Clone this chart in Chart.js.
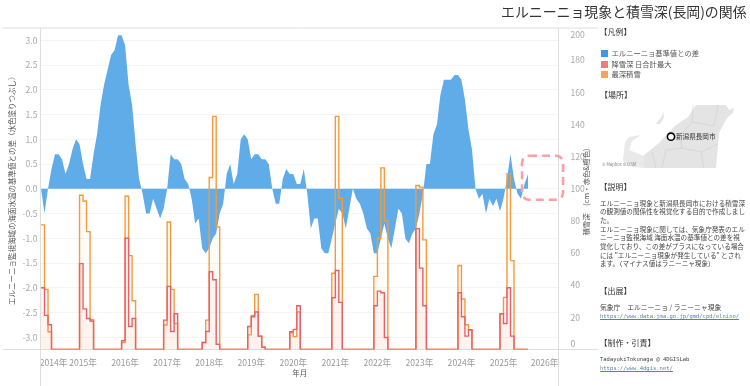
<!DOCTYPE html>
<html lang="ja"><head><meta charset="utf-8">
<script src="https://cdn.jsdelivr.net/npm/chart.js@4"></script>
<style>
html,body{margin:0;padding:0;background:#fff;width:750px;height:386px;overflow:hidden;font-family:"Noto Sans CJK JP","Noto Sans",sans-serif;color:#444}
#wrap{position:absolute;left:0;top:0;width:600px;height:386px}
.t{position:absolute;white-space:nowrap}
.h{font-size:8px;color:#333}
.p{font-size:6.6px;color:#444;line-height:8.67px}
.m{font-family:"DejaVu Sans Mono","Liberation Mono",monospace;font-size:5.5px}
a{color:#5a7fb5;text-decoration:underline}
.sw{position:absolute;width:7px;height:7px}
</style></head><body>
<div id="wrap"><canvas id="c" width="600" height="386"></canvas></div>
<div class="t" style="left:501px;top:1px;font-size:13.9px;color:#333;line-height:20px">エルニーニョ現象と積雪深(長岡)の関係</div>
<div class="t" id="rtitle" style="left:585px;top:191.5px;font-size:7.4px;color:#555;transform:translate(-50%,-50%) rotate(-90deg)">積雪深　(cm・赤色&amp;橙色)</div>
<div class="t h" style="left:599.5px;top:26px">【凡例】</div>
<div class="sw" style="left:601px;top:50px;background:#3b9ae8"></div>
<div class="sw" style="left:601px;top:60.5px;background:#e87d85"></div>
<div class="sw" style="left:601px;top:71px;background:#f5a55a"></div>
<div class="t" style="left:611.5px;top:48px;font-size:7.3px;color:#555">エルニーニョ基準値との差</div>
<div class="t" style="left:611.5px;top:58.5px;font-size:7.3px;color:#555">降雪深 日合計最大</div>
<div class="t" style="left:611.5px;top:69px;font-size:7.3px;color:#555">最深積雪</div>
<div class="t h" style="left:600px;top:89px">【場所】</div>
<svg style="position:absolute;left:596px;top:100px" width="150" height="75" viewBox="0 0 150 75">
<path d="M48 68L47 56L63 43L72 33L80 25L92 17L100 5L130 5L133 10L138 8L137 13L132 17L128 23L123 33L120 68Z" fill="#e4e4e4"/>
<path d="M60 24L66 16L67 11L68 17L64 24Z" fill="#e4e4e4"/>
<path d="M27 60L29 42L33 37L45 35L36 41L33 50L48 56L48 68L30 66Z" fill="#e9e9e9"/>
<path d="M97 5L96 22L84 36L86 48L70 50L66 68M96 22L118 26L122 5M86 48L105 52L122 44M105 52L108 68M56 52L60 68" fill="none" stroke="#c9c9c9" stroke-width=".5"/>
<circle cx="75" cy="36.7" r="3.6" fill="#fff" stroke="#000" stroke-width="1.6"/>
</svg>
<div class="t" style="left:676px;top:131px;font-size:6.6px;color:#333">新潟県長岡市</div>
<div class="t" style="left:602px;top:161px;font-size:4.2px;color:#888">© Mapbox  © OSM</div>
<div class="t h" style="left:599.5px;top:181px">【説明】</div>
<div class="t p" style="left:600px;top:198.5px">エルニーニョ現象と新潟県長岡市における積雪深<br>の観測値の関係性を視覚化する目的で作成しまし<br>た。<br>エルニーニョ現象に関しては、気象庁発表のエル<br>ニーニョ監視海域 海面水温の基準値との差を視<br>覚化しており、この差がプラスになっている場合<br>には "エルニーニョ現象が発生している" とされ<br>ます。（マイナス値はラニーニャ現象）</div>
<div class="t h" style="left:599.5px;top:284.5px">【出展】</div>
<div class="t" style="left:600px;top:302px;font-size:6.8px;color:#444">気象庁　エルニーニョ / ラニーニャ現象</div>
<div class="t m" style="left:600px;top:313px"><a>https://www.data.jma.go.jp/gmd/cpd/elnino/</a></div>
<div class="t h" style="left:599.5px;top:336.5px">【制作・引責】</div>
<div class="t m" style="left:600px;top:355.7px;color:#444">TadayukiTokunaga @ 4DGISLab</div>
<div class="t m" style="left:600px;top:364.7px"><a>https://www.4dgis.net/</a></div>
<script>
const startYear = 2014;
const yearTicks = [2014,2015,2016,2017,2018,2019,2020,2021,2022,2023,2024,2025,2026];
const elNino = [0,-0.5,0,0.4,0.7,0.7,0.6,0.3,0.5,0.8,1.0,0.9,0.5,0.2,0.2,0.7,1.1,1.7,2.1,2.4,2.7,2.8,3.1,3.1,2.9,2.1,1.7,0.9,0.2,-0.1,-0.5,-0.5,-0.2,-0.4,-0.6,-0.4,0.0,0.7,0.6,0.6,0.5,0.2,0.1,-0.2,-0.7,-0.6,-1.2,-1.3,-1.2,-1.0,-0.9,-0.5,-0.3,0.3,0.5,0.1,0.3,1.0,1.1,1.0,0.6,0.7,0.7,0.6,0.6,0.5,0.0,-0.3,-0.3,0.2,0.4,0.3,0.3,0.1,0.1,0.4,-0.1,-0.8,-0.6,-0.6,-1.2,-1.3,-1.3,-1.0,-0.7,-0.4,-0.5,-0.8,-0.4,0.0,-0.2,-0.3,-0.5,-0.8,-0.9,-1.3,-1.3,-1.0,-0.7,-1.0,-1.2,-0.8,-0.4,-0.5,-1.0,-1.1,-0.9,-0.8,-0.5,-0.1,0.5,0.5,1.1,1.3,1.9,2.2,2.2,2.2,2.3,2.3,2.2,1.8,1.2,0.8,0.0,-0.2,-0.1,-0.5,-0.2,-0.35,-0.2,-0.45,-0.2,0.2,0.7,0.2,-0.1,-0.2,0.1,0.3];
const deepestSnow = [77.5,37.4,11,0,0,0,0,0,0,0,0,96,92.4,73.3,18.7,0,0,0,0,0,0,0,0,4.4,95.3,58.4,30.3,0,0,0,0,0,0,0,0,15.2,79.3,37.4,16.2,0,0,0,0,0,0,0,4.4,18.3,107,145,76.2,0,0,0,0,0,0,0,0,9.1,21.2,34.3,8.3,1.5,0,0,0,0,0,0,0,10.4,8,23.3,0,0,0,0,0,0,0,0,0,47.4,145,94,0,0,0,0,0,0,0,0,0,45.5,69.2,113,80,0,0,0,0,0,0,0,0,102,101,68.2,0,0,0,0,0,0,0,0,0,52.3,31.4,15.4,12.3,0,0,0,0,0,0,0,0,22.2,32.4,109.4,55.3,0,0,0,0,0];
const dailySnow = [38.4,21.2,15.4,0,0,0,0,0,0,0,0,53.4,25.3,19.3,17.7,0,0,0,0,0,0,0,0,5.4,69.2,14.3,19.3,0,0,0,0,0,0,0,0,18.3,39.3,11.2,22.2,0,0,0,0,0,0,0,4.4,11.2,48.4,43.4,3.3,0,0,0,0,0,0,0,0,14.3,20.4,23.3,8.3,1.5,0,0,0,0,0,0,0,11,12.5,27.2,0,0,0,0,0,0,0,0,0,32.2,49.1,29.3,0,0,0,0,0,0,0,0,0,27.2,36.3,35.3,7.5,0,0,0,0,0,0,0,0,75.2,50.6,27.2,0,0,0,0,0,0,0,0,0,35.3,20.4,8.3,12.3,0,0,0,0,0,0,0,0,22.2,16.2,38.4,8.3,0,0,0,0,0];
const leftTicks = [-3,-2.5,-2,-1.5,-1,-0.5,0,0.5,1,1.5,2,2.5,3];
const rightTicks = [0,20,40,60,80,100,120,140,160,180,200];

const pts = a => a.map((v,i)=>({x:i,y:v}));
const tickFont = {family:'"Noto Sans CJK JP","Noto Sans",sans-serif',size:8.6};
const titleFont = {family:'"Noto Sans CJK JP","Noto Sans",sans-serif',size:7.5};
const LINE = '#dedede';

const tweakLabels = {
  id:'tweakLabels',
  beforeDraw(chart){
    const sx = chart.scales.x, sr = chart.scales.yR;
    const xi = sx.getLabelItems(), ri = sr.getLabelItems();
    if(!xi.done){ xi.done=true;
      xi.forEach(it=>{ if(it.label==='2014年'){it.options.translation[0]+=12.5;} if(it.label==='2026年'){it.options.translation[0]-=1;} });
    }
    if(!ri.done){ ri.done=true;
      ri.forEach(it=>{ if(it.label==='200'){it.options.translation[1]+=7;} if(it.label==='0'){it.options.translation[1]-=5.5;} });
    }
  }
};
const frame = {
  id:'frame',
  beforeDatasetsDraw(chart){
    const {ctx,chartArea:a}=chart;
    ctx.save();ctx.strokeStyle=LINE;ctx.lineWidth=1;ctx.beginPath();
    ctx.moveTo(3,a.top+.0);ctx.lineTo(598,a.top+.0);
    ctx.moveTo(3,a.bottom);ctx.lineTo(598,a.bottom);
    ctx.moveTo(a.left-.5,a.top);ctx.lineTo(a.left-.5,386);
    ctx.moveTo(a.right,a.top);ctx.lineTo(a.right,386);
    ctx.stroke();ctx.restore();
  }
};
const highlight = {
  id:'highlight',
  afterDraw(chart){
    const {ctx,scales:{x,yR}}=chart;
    const l=x.getPixelForValue(137.3), r=x.getPixelForValue(149), t=yR.getPixelForValue(120.5), b=yR.getPixelForValue(93.2);
    ctx.save();ctx.strokeStyle='#ff9ea5';ctx.lineWidth=2.6;ctx.setLineDash([8,5]);
    ctx.beginPath();ctx.roundRect(l,t,r-l,b-t,7);ctx.stroke();ctx.restore();
  }
};

new Chart(document.getElementById('c'),{
  type:'line',
  data:{datasets:[
    {label:'降雪深 日合計最大',data:pts(dailySnow),yAxisID:'yR',borderColor:'#e8606a',backgroundColor:'rgba(232,96,106,0.05)',borderWidth:1.4,stepped:true,fill:'origin',pointRadius:0,order:1},
    {label:'最深積雪',data:pts(deepestSnow),yAxisID:'yR',borderColor:'#f59a3c',backgroundColor:'rgba(245,154,60,0.04)',borderWidth:1.4,stepped:true,fill:'origin',pointRadius:0,order:2},
    {label:'エルニーニョ基準値との差',data:pts(elNino),yAxisID:'yL',borderColor:'rgba(91,172,234,0)',backgroundColor:'#5face9',borderWidth:0,tension:0,fill:'origin',pointRadius:0,order:3}
  ]},
  options:{
    responsive:false,animation:false,
    layout:{padding:{left:0,right:0,top:28,bottom:0}},
    plugins:{legend:{display:false},title:{display:false},tooltip:{enabled:false}},
    scales:{
      x:{type:'linear',min:0,max:147.7,
        afterBuildTicks(s){s.ticks=yearTicks.map(y=>({value:(y-startYear)*12}));},
        afterFit(s){s.height=36.5;},
        grid:{display:false},border:{display:false},
        ticks:{color:'#999',font:tickFont,maxRotation:0,autoSkip:false,padding:0,callback:v=>(startYear+v/12)+'年'},
        title:{display:true,text:'年月',color:'#555',font:titleFont,padding:{top:4,bottom:8}}},
      yL:{position:'left',min:-3.243,max:3.247,
        afterBuildTicks(s){s.ticks=leftTicks.map(v=>({value:v}));},
        afterFit(s){s.width=41;},
        grid:{color:'#f4f4f4',drawTicks:false},border:{display:false},
        ticks:{color:'#aaa',font:tickFont,padding:3.5,callback:v=>v.toFixed(1)},
        title:{display:true,text:'エルニーニョ監視海域の海面水温の基準値との差（水色塗りつぶし）',color:'#555',font:titleFont,padding:{top:8,bottom:0}}},
      yR:{position:'right',min:0,max:200,
        afterBuildTicks(s){s.ticks=rightTicks.map(v=>({value:v}));},
        afterFit(s){s.width=41.5;},
        grid:{display:false},border:{display:false},
        ticks:{color:'#aaa',font:tickFont,padding:4,callback:v=>String(v)}}
    }
  },
  plugins:[tweakLabels,frame,highlight]
});
</script>
</body></html>
